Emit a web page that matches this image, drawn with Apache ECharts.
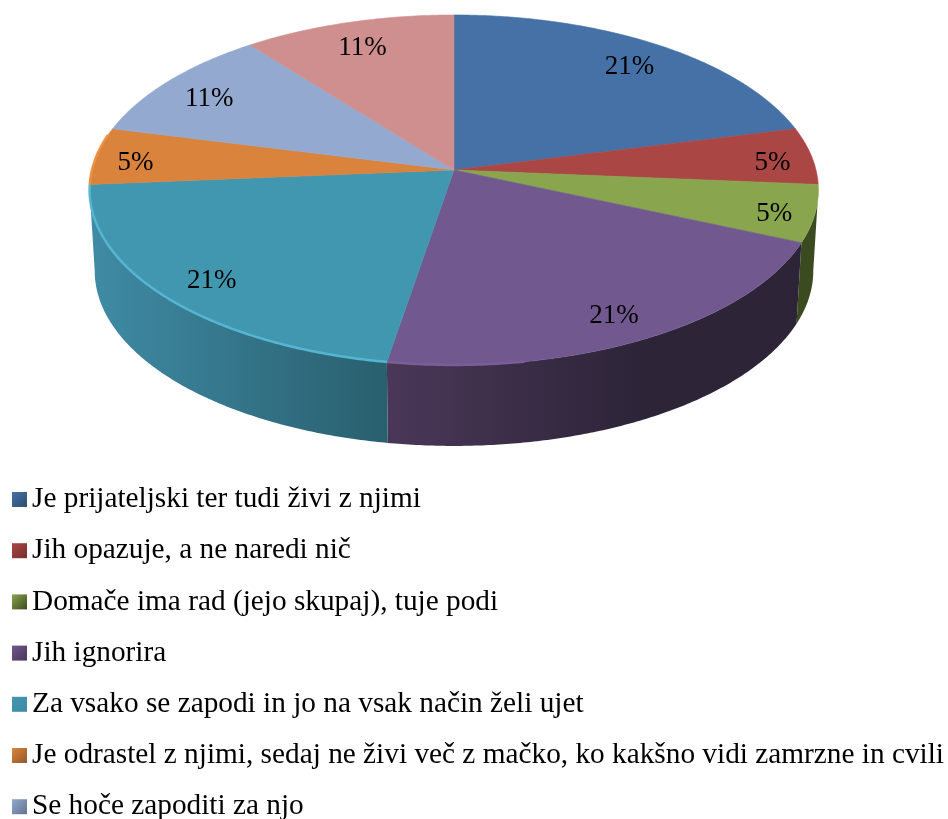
<!DOCTYPE html>
<html>
<head>
<meta charset="utf-8">
<title>Pie</title>
<script src="https://cdn.jsdelivr.net/npm/echarts@6/dist/echarts.min.js"></script>
<style>
html, body { margin: 0; padding: 0; background: #fff; }
#chart { width: 948px; height: 819px; }
</style>
</head>
<body>
<div id="chart"></div>
<script>
// the legend runs off the bottom of the picture, the 8th name is not visible
var categories = [
  "Je prijateljski ter tudi živi z njimi",
  "Jih opazuje, a ne naredi nič",
  "Domače ima rad (jejo skupaj), tuje podi",
  "Jih ignorira",
  "Za vsako se zapodi in jo na vsak način želi ujet",
  "Je odrastel z njimi, sedaj ne živi več z mačko, ko kakšno vidi zamrzne in cvili",
  "Se hoče zapoditi za njo"
];
// answers per slice, gives the printed 21% / 5% / 11%
var counts = [4, 1, 1, 4, 4, 1, 2, 2];

var topColors = ["#4571a6", "#aa4644", "#89a54e", "#71588f", "#4197af", "#d9833c", "#93a9cf", "#cf8f8e"];
var rimColors = ["#4571a6", "#aa4644", "#89a54e", "#785f97", "#55b5d2", "#ee9041", "#93a9cf", "#cf8f8e"];
var wallFrom = ["#2f4d72", "#752f2e", "#3c4a20", "#4a3758", "#3f8aa4", "#94592a", "#64738d", "#8d6161"];
var wallTo = ["#2f4d72", "#752f2e", "#3c4a20", "#2d2438", "#295f6e", "#94592a", "#64738d", "#8d6161"];
var wallStart = [0, 0, 0, 388, 94, 0, 0, 0];
var wallEnd = [948, 948, 948, 640, 388, 948, 948, 948];

// disc seen in perspective, the centre of the pie is above the centre of the ellipse
var cx = 454, cy = 170, scaleX = 362, scaleY = 172.7, persp = 0.114;
var depth = 81, bottomShrink = 0.986;
var labelRadius = 0.85, labelRadiusSmall = 0.89, labelShiftY = 5;

var total = counts.reduce(function (a, b) { return a + b; }, 0);

function angleAt(sum) {
  return sum / total * 360;
}

function project(deg, r) {
  var t = deg * Math.PI / 180;
  var u = Math.sin(t) * r, v = -Math.cos(t) * r;
  var w = 1 - persp * v;
  return [cx + scaleX * u / w, cy + scaleY * v / w];
}

function arcPoints(from, to) {
  var pts = [];
  var steps = Math.max(2, Math.ceil((to - from) * 2));
  for (var i = 0; i <= steps; i++) {
    pts.push(project(from + (to - from) * i / steps, 1));
  }
  return pts;
}

// the wall can only be seen on the front between these two angles
var frontFrom = 96.5, frontTo = 263.5;
var rimFrom = 170, rimTo = 282;

function sliceRender(index, start, end) {
  return function () {
    var children = [];
    var a = Math.max(start, frontFrom), b = Math.min(end, frontTo);
    if (b > a) {
      var upper = arcPoints(a, b);
      var lower = upper.map(function (p) {
        return [cx + (p[0] - cx) * bottomShrink, p[1] + depth];
      }).reverse();
      var x0 = wallStart[index], x1 = wallEnd[index];
      children.push({
        type: "polygon",
        shape: { points: upper.concat(lower) },
        style: {
          fill: new echarts.graphic.LinearGradient(x0, 0, x1, 0, [
            { offset: 0, color: wallFrom[index] },
            { offset: 1, color: wallTo[index] }
          ], true)
        }
      });
    }
    children.push({
      type: "polygon",
      shape: { points: [[cx, cy]].concat(arcPoints(start, end)) },
      style: { fill: topColors[index], stroke: topColors[index], lineWidth: 0.6 }
    });
    var r0 = Math.max(start, rimFrom), r1 = Math.min(end, rimTo);
    if (r1 > r0) {
      children.push({
        type: "polyline",
        shape: { points: arcPoints(r0, r1) },
        style: { stroke: rimColors[index], fill: null, lineWidth: 2.5 }
      });
    }
    var small = counts[index] / total < 0.1;
    var mid = project((start + end) / 2, small ? labelRadiusSmall : labelRadius);
    children.push({
      type: "text",
      x: mid[0],
      y: mid[1] + labelShiftY,
      style: {
        text: Math.round(counts[index] / total * 100) + "%",
        fill: "#000",
        font: '27px "Liberation Serif"',
        align: "center",
        verticalAlign: "middle"
      }
    });
    return { type: "group", children: children };
  };
}

var series = [];
var sum = 0;
counts.forEach(function (value, i) {
  var start = angleAt(sum);
  sum += value;
  series.push({
    type: "custom",
    name: categories[i],
    coordinateSystem: "none",
    silent: true,
    animation: false,
    itemStyle: { color: topColors[i] },
    data: [[value]],
    renderItem: sliceRender(i, start, angleAt(sum))
  });
});

var chart = echarts.init(document.getElementById("chart"), null, { renderer: "canvas" });
chart.setOption({
  animation: false,
  backgroundColor: "#fff",
  legend: {
    orient: "vertical",
    left: 12,
    top: 485,
    height: 400,
    padding: 0,
    itemWidth: 15,
    itemHeight: 15,
    itemGap: 22.2,
    selectedMode: false,
    icon: "rect",
    textStyle: {
      fontFamily: "Liberation Serif",
      fontSize: 29.3,
      color: "#000"
    },
    data: categories.map(function (name, i) {
      return {
        name: name,
        itemStyle: {
          color: new echarts.graphic.LinearGradient(0, 0, 1, 1, [
            { offset: 0, color: topColors[i] },
            { offset: 1, color: wallFrom[i] }
          ])
        }
      };
    })
  },
  series: series
});
</script>
</body>
</html>
